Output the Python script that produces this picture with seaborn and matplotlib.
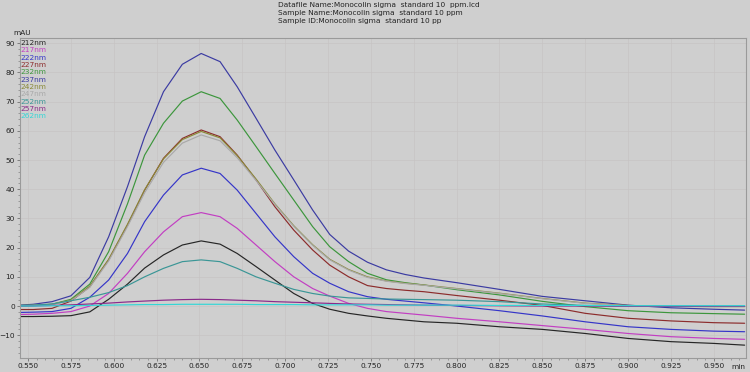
import numpy as np
import pandas as pd
import seaborn as sns
import matplotlib.pyplot as plt
from matplotlib.ticker import MultipleLocator

times = [0.545, 0.553, 0.564, 0.575, 0.586, 0.597, 0.608, 0.618, 0.629, 0.640,
         0.651, 0.662, 0.672, 0.683, 0.694, 0.705, 0.716, 0.726, 0.737, 0.748,
         0.759, 0.770, 0.781, 0.800, 0.825, 0.850, 0.875, 0.900, 0.925, 0.950, 0.968]

wavelengths = ['212nm', '217nm', '222nm', '227nm', '232nm', '237nm',
               '242nm', '247nm', '252nm', '257nm', '262nm']

s212 = [-3.6, -3.6, -3.5, -3.3, -2.0, 2.3, 7.5, 13.0, 17.5, 20.9,
        22.3, 21.2, 18.0, 13.5, 8.9, 4.3, 0.9, -1.1, -2.5, -3.4,
        -4.2, -4.8, -5.4, -5.9, -7.1, -8.0, -9.4, -11.1, -12.2, -12.8, -13.4]
s217 = [-2.9, -2.8, -2.5, -1.9, 0.0, 4.3, 11.2, 18.6, 25.4, 30.6,
        32.0, 30.6, 26.6, 20.9, 15.2, 10.0, 6.0, 3.4, 0.9, -0.8,
        -1.9, -2.5, -3.1, -4.2, -5.4, -6.7, -8.0, -9.4, -10.5, -11.1, -11.4]
s222 = [-2.2, -2.1, -1.9, -0.8, 3.0, 8.9, 18.0, 28.9, 38.0, 44.9,
        47.2, 45.4, 39.7, 31.7, 23.7, 16.9, 11.2, 7.8, 4.9, 3.2,
        2.3, 1.7, 1.1, 0.0, -1.6, -3.4, -5.4, -7.1, -8.0, -8.6, -8.8]
s227 = [-1.2, -1.2, -0.8, 1.7, 6.6, 15.8, 27.7, 39.7, 50.6, 57.4,
        60.3, 58.0, 51.7, 43.2, 34.0, 26.0, 19.2, 14.0, 10.0, 7.0,
        6.0, 5.4, 4.9, 3.6, 2.0, 0.2, -2.5, -4.2, -5.1, -5.7, -5.9]
s232 = [0.0, 0.1, 0.6, 2.3, 7.5, 18.6, 35.0, 51.7, 62.6, 70.2,
        73.4, 71.1, 63.7, 54.6, 45.4, 36.3, 27.2, 20.3, 15.2, 11.2,
        9.0, 8.0, 7.2, 5.6, 3.8, 1.6, -0.2, -1.6, -2.3, -2.6, -2.8]
s237 = [0.3, 0.6, 1.5, 3.5, 9.8, 23.7, 40.9, 58.0, 73.4, 82.8,
        86.5, 83.7, 75.1, 64.3, 53.4, 43.2, 32.9, 24.5, 18.8, 15.0,
        12.4, 10.8, 9.6, 8.0, 5.7, 3.3, 1.8, 0.3, -0.6, -1.1, -1.4]
s242 = [0.2, 0.3, 0.6, 2.0, 6.8, 16.0, 28.0, 39.8, 50.4, 57.0,
        59.8, 57.6, 51.5, 43.5, 35.0, 27.5, 21.0, 16.0, 12.5, 10.0,
        8.6, 7.8, 7.2, 6.0, 4.4, 2.6, 1.0, 0.2, -0.1, -0.2, -0.2]
s247 = [0.1, 0.2, 0.5, 1.8, 6.4, 15.4, 27.2, 38.8, 49.2, 55.8,
        58.6, 56.6, 50.8, 43.0, 34.8, 27.3, 20.8, 15.8, 12.3, 9.8,
        8.5, 7.7, 7.1, 5.9, 4.3, 2.5, 0.9, 0.1, -0.1, -0.1, -0.1]
s252 = [0.2, 0.3, 0.7, 1.8, 3.0, 4.6, 7.0, 10.0, 12.9, 15.2,
        15.8, 15.2, 12.9, 10.0, 7.8, 5.7, 4.3, 3.4, 2.8, 2.6,
        2.4, 2.3, 2.2, 2.0, 1.5, 0.7, 0.2, 0.0, 0.0, 0.0, 0.0]
s257 = [-0.1, 0.0, 0.2, 0.4, 0.7, 1.0, 1.4, 1.7, 2.0, 2.2,
        2.3, 2.2, 2.0, 1.8, 1.5, 1.3, 1.1, 0.9, 0.7, 0.6,
        0.5, 0.4, 0.3, 0.2, 0.1, 0.0, 0.0, -0.1, -0.1, -0.1, -0.1]
s262 = [0.0, 0.0, 0.1, 0.1, 0.2, 0.3, 0.4, 0.5, 0.5, 0.6,
        0.6, 0.6, 0.6, 0.5, 0.5, 0.5, 0.4, 0.4, 0.4, 0.4,
        0.3, 0.3, 0.3, 0.3, 0.2, 0.2, 0.2, 0.1, 0.1, 0.1, 0.1]

series = [s212, s217, s222, s227, s232, s237, s242, s247, s252, s257, s262]
colors = ['#262626', '#c23ec2', '#3535c8', '#8c2c2c', '#3c963c', '#3b3ba2',
          '#8a8a38', '#a9a9a9', '#3a9696', '#8a2a8a', '#33d6d6']

# tabla larga para seaborn
df = pd.DataFrame({
    'time': np.tile(times, len(wavelengths)),
    'mAU': np.concatenate(series),
    'wl': np.repeat(wavelengths, len(times)),
})

bg = '#cfcfcf'
sns.set_theme(style='ticks', rc={'axes.facecolor': bg, 'figure.facecolor': bg})
plt.rcParams['font.family'] = ['DejaVu Sans']

fig = plt.figure(figsize=(7.5, 3.72), dpi=100)
ax = fig.add_axes([20 / 750, 1 - 358 / 372, (746 - 20) / 750, (358 - 38) / 372])

sns.lineplot(data=df, x='time', y='mAU', hue='wl', hue_order=wavelengths,
             palette=dict(zip(wavelengths, colors)), sort=False,
             linewidth=0.85, legend=False, ax=ax)

ax.set_xlim(0.5453, 0.9688)
ax.set_ylim(-17.8, 91.8)
xt = np.arange(0.55, 0.951, 0.025)
ax.set_xticks(xt)
ax.set_xticklabels([f'{v:.3f}' for v in xt])
ax.set_yticks(np.arange(-10, 91, 10))
ax.xaxis.set_minor_locator(MultipleLocator(0.005))
ax.yaxis.set_minor_locator(MultipleLocator(2))
ax.tick_params(axis='both', which='major', labelsize=5.3, length=2.5, width=0.6,
               color='#707070', pad=1.2, labelcolor='#222222')
ax.tick_params(axis='both', which='minor', length=1.5, width=0.5, color='#808080')
ax.grid(True, which='major', color='#c7c4c4', linewidth=0.5)
ax.set_xlabel('')
ax.set_ylabel('')
for sp in ax.spines.values():
    sp.set_color('#9a9a9a')
    sp.set_linewidth(0.8)

# leyenda como texto coloreado
for i, (wl, c) in enumerate(zip(wavelengths, colors)):
    ax.text(0.0012, 1 - (5 + i * 7.35) / 320, wl, transform=ax.transAxes,
            color=c, fontsize=5.3, va='center', ha='left')

fig.text(13 / 750, 1 - 33 / 372, 'mAU', fontsize=5.3, va='center', ha='left', color='#222222')
fig.text(738 / 750, 1 - 367 / 372, 'min', fontsize=5.3, va='center', ha='center', color='#222222')

header = ['Datafile Name:Monocolin sigma  standard 10  ppm.lcd',
          'Sample Name:Monocolin sigma  standard 10 ppm',
          'Sample ID:Monocolin sigma  standard 10 pp']
for i, line in enumerate(header):
    fig.text(278 / 750, 1 - (5 + i * 8) / 372, line, fontsize=5.3,
             va='center', ha='left', color='#222222')

plt.savefig('out.png', dpi=100, facecolor=bg)
plt.close()
